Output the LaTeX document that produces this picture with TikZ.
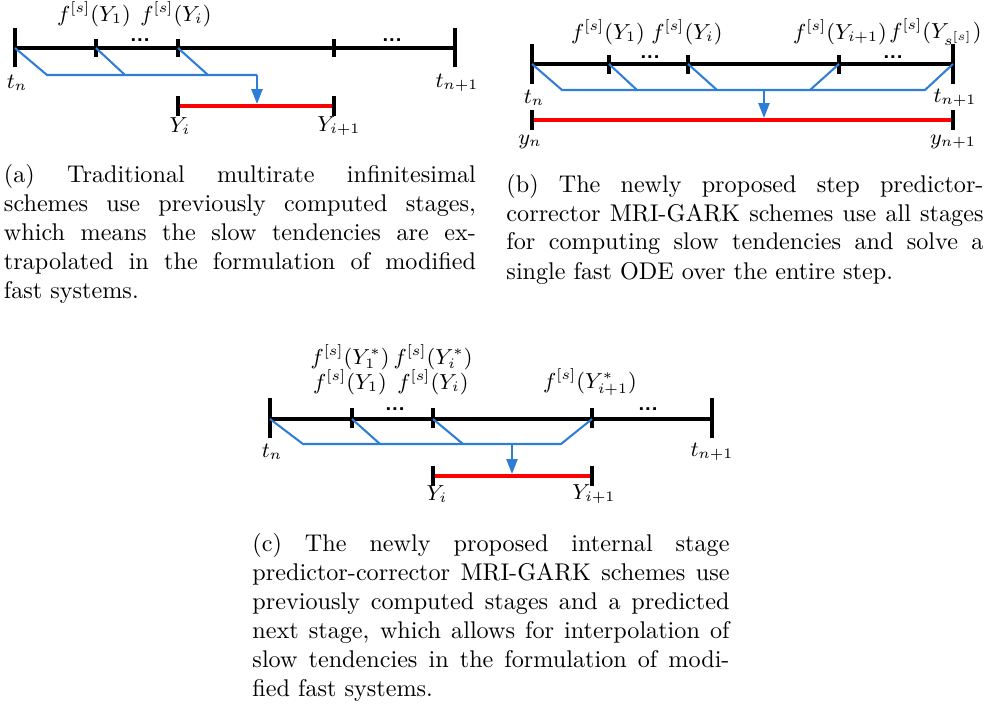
\documentclass[tikz,border=0pt]{standalone}
\usetikzlibrary{arrows.meta}
\definecolor{myblue}{RGB}{46,125,214}
\hyphenpenalty=10000
\exhyphenpenalty=10000
\tolerance=9999
\newcommand{\fs}[1]{f^{[s]}(Y_{#1})}
\newcommand{\fss}[1]{f^{[s]}(Y^{*}_{#1})}
\begin{document}
\begin{tikzpicture}[x=0.4138pt,y=-0.4138pt,
  axisline/.style={line width=1.65pt},
  bigtick/.style={line width=1.65pt},
  smalltick/.style={line width=1.65pt},
  blueline/.style={draw=myblue,line width=0.85pt},
  bluearrow/.style={draw=myblue,line width=0.85pt,-{Triangle[length=6.2pt,width=4.6pt]}},
  redline/.style={draw=red,line width=2pt},
  lbl/.style={inner sep=0pt,font=\fontsize{9}{10}\selectfont},
  dotsnode/.style={inner sep=0pt,anchor=base,font=\sffamily\bfseries\fontsize{9}{9}\selectfont},
  captext/.style={inner sep=0pt,anchor=base west,align=justify,font=\normalsize}]
\useasboundingbox (0,0) rectangle (984,709);
\clip (0,0) rectangle (984,709);

% ---------------- panel (a)
\coordinate (a0) at (15,48);
\coordinate (a1) at (96,48);
\coordinate (a2) at (178,48);
\coordinate (a3) at (334,48);
\coordinate (a4) at (455,48);
\coordinate (ab0) at (47,75);
\coordinate (ab1) at (125,75);
\coordinate (ab2) at (208,75);
\coordinate (ah) at (257,75);
\coordinate (ar) at (257,104);
\coordinate (ra0) at (178,106);
\coordinate (ra1) at (334,106);
\draw[axisline] (a0) -- (a4);
\foreach \p in {a0,a4} \draw[bigtick] (\p) ++(0,-20) -- ++(0,39);
\foreach \p in {a1,a2,a3} \draw[smalltick] (\p) ++(0,-9) -- ++(0,18);
\draw[blueline] (a0) -- (ab0) -- (ah);
\draw[blueline] (a1) -- (ab1);
\draw[blueline] (a2) -- (ab2);
\draw[bluearrow] (ah) -- (ar);
\draw[redline] (ra0) -- (ra1);
\foreach \p in {ra0,ra1} \draw[bigtick] (\p) ++(0,-10) -- ++(0,20);
\node[lbl] (fa1) at (94,14) {$\fs{1}$};
\node[lbl] (fai) at (176,14) {$\fs{i}$};
\node[dotsnode] (da1) at (140,41) {...};
\node[dotsnode] (da2) at (392,41) {...};
\node[lbl] (tna) at (17,83) {$t_n$};
\node[lbl] (tnna) at (457,83) {$t_{n+1}$};
\node[lbl] (yia) at (180,126) {$Y_{i}$};
\node[lbl] (yiia) at (339,126) {$Y_{i+1}$};
\node[captext,text width=195.3pt] (capa) at (3.5,182) {(a) Traditional multirate infinitesimal\linebreak schemes use previously computed stages,\linebreak which means the slow tendencies are ex-\linebreak trapolated in the formulation of modified\linebreak fast systems.};

% ---------------- panel (b)
\coordinate (b0) at (532,64);
\coordinate (b1) at (609,64);
\coordinate (b2) at (688,64);
\coordinate (b3) at (839,64);
\coordinate (b4) at (953,64);
\coordinate (bb0) at (562,90);
\coordinate (bb1) at (637,90);
\coordinate (bb2) at (717,90);
\coordinate (bb3) at (810,90);
\coordinate (bb4) at (925,90);
\coordinate (bh) at (764,90);
\coordinate (br) at (764,118);
\coordinate (rb0) at (532,120);
\coordinate (rb1) at (953,120);
\draw[axisline] (b0) -- (b4);
\foreach \p in {b0,b4} \draw[bigtick] (\p) ++(0,-20) -- ++(0,40);
\foreach \p in {b1,b2,b3} \draw[smalltick] (\p) ++(0,-9) -- ++(0,19);
\draw[blueline] (b0) -- (bb0) -- (bb4) -- (b4);
\draw[blueline] (b1) -- (bb1);
\draw[blueline] (b2) -- (bb2);
\draw[blueline] (b3) -- (bb3);
\draw[bluearrow] (bh) -- (br);
\draw[redline] (rb0) -- (rb1);
\foreach \p in {rb0,rb1} \draw[bigtick] (\p) ++(0,-10) -- ++(0,20);
\node[lbl] (fb1) at (608,32) {$\fs{1}$};
\node[lbl] (fbi) at (687,32) {$\fs{i}$};
\node[lbl] (fbii) at (840,32) {$\fs{i+1}$};
\node[lbl,anchor=east] (fbs) at (982,32) {$f^{[s]}(Y_{s^{[s]}})$};
\node[dotsnode] (db1) at (650,58) {...};
\node[dotsnode] (db2) at (893,58) {...};
\node[lbl] (tnb) at (534,98) {$t_n$};
\node[lbl] (tnnb) at (955,98) {$t_{n+1}$};
\node[lbl] (ynb) at (530,142) {$y_n$};
\node[lbl] (ynnb) at (953,142) {$y_{n+1}$};
\node[captext,text width=197.4pt] (capb) at (506,192) {(b) The newly proposed step predictor-\linebreak corrector MRI-GARK schemes use all stages\linebreak for computing slow tendencies and solve a\linebreak single fast ODE over the entire step.};

% ---------------- panel (c)
\coordinate (c0) at (270,419);
\coordinate (c1) at (352,419);
\coordinate (c2) at (433,419);
\coordinate (c3) at (592,419);
\coordinate (c4) at (712,419);
\coordinate (cb0) at (303,444);
\coordinate (cb1) at (380,444);
\coordinate (cb2) at (463,444);
\coordinate (cb3) at (561,444);
\coordinate (ch) at (512,444);
\coordinate (cr) at (512,474);
\coordinate (rc0) at (433,476);
\coordinate (rc1) at (592,476);
\draw[axisline] (c0) -- (c4);
\foreach \p in {c0,c4} \draw[bigtick] (\p) ++(0,-21) -- ++(0,40);
\foreach \p in {c1,c2,c3} \draw[smalltick] (\p) ++(0,-11) -- ++(0,20);
\draw[blueline] (c0) -- (cb0) -- (cb3) -- (c3);
\draw[blueline] (c1) -- (cb1);
\draw[blueline] (c2) -- (cb2);
\draw[bluearrow] (ch) -- (cr);
\draw[redline] (rc0) -- (rc1);
\foreach \p in {rc0,rc1} \draw[bigtick] (\p) ++(0,-10) -- ++(0,20);
\node[lbl] (fc1s) at (350,357) {$\fss{1}$};
\node[lbl] (fcis) at (433,357) {$\fss{i}$};
\node[lbl] (fc1) at (350,382) {$\fs{1}$};
\node[lbl] (fci) at (433,382) {$\fs{i}$};
\node[lbl] (fciis) at (590,382) {$\fss{i+1}$};
\node[dotsnode] (dc1) at (395,410) {...};
\node[dotsnode] (dc2) at (648,410) {...};
\node[lbl] (tnc) at (272,452) {$t_n$};
\node[lbl] (tnnc) at (712,452) {$t_{n+1}$};
\node[lbl] (yic) at (437,494) {$Y_{i}$};
\node[lbl] (yiic) at (594,494) {$Y_{i+1}$};
\node[captext,text width=197.4pt] (capc) at (252,551) {(c) The newly proposed internal stage\linebreak predictor-corrector MRI-GARK schemes use\linebreak previously computed stages and a predicted\linebreak next stage, which allows for interpolation of\linebreak slow tendencies in the formulation of modi-\linebreak fied fast systems.};
\end{tikzpicture}
\end{document}
